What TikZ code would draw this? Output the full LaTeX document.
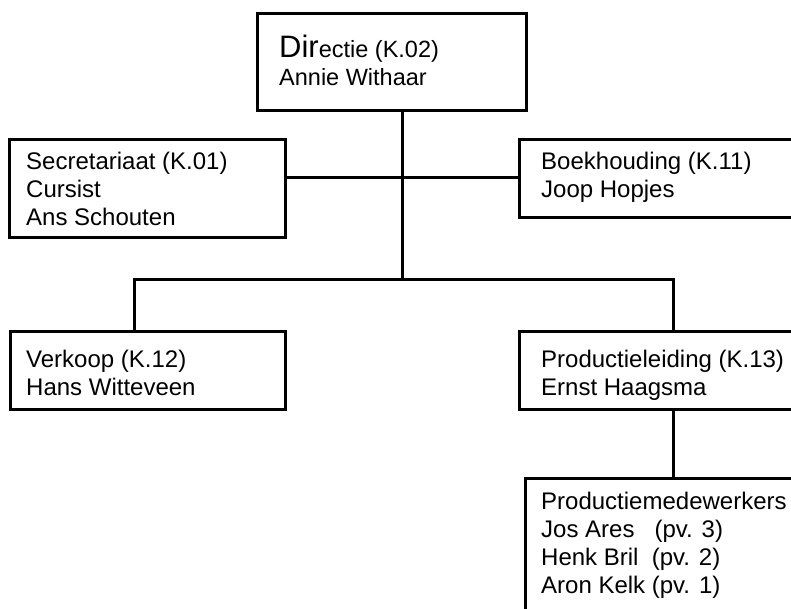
\documentclass[tikz,border=0pt]{standalone}
\usepackage{fontspec}
\setmainfont{Liberation Sans}
\begin{document}
\begin{tikzpicture}[x=1pt,y=-1pt,
  box/.style={draw=black,line width=3pt,rectangle,inner sep=0pt,outer sep=0pt},
  lbl/.style={anchor=base west,align=left,inner sep=0pt,font=\fontsize{24}{27.7}\selectfont},
  conn/.style={draw=black,line width=3pt,line join=miter}]
\clip (0,0) rectangle (791,608);
% boxes
\node[box,minimum width=269pt,minimum height=97pt] (dir) at (391.5,61.5) {};
\node[box,minimum width=276pt,minimum height=98pt] (sec) at (147,188) {};
\node[box,minimum width=330pt,minimum height=78pt] (boek) at (684,178) {};
\node[box,minimum width=275pt,minimum height=78pt] (verk) at (147.5,370) {};
\node[box,minimum width=330pt,minimum height=78pt] (pl) at (684,370) {};
\node[box,minimum width=330pt,minimum height=180pt] (pm) at (690,568) {};
% texts (anchored at the baseline of their last line)
\node[lbl,font=\fontsize{23.5}{27.7}\selectfont] (tdir) at (279,85) {{\fontsize{31}{27.7}\selectfont Dir}ectie (K.02)\\Annie Withaar};
\node[lbl] (tsec) at (26,225) {Secretariaat (K.01)\\Cursist\\Ans Schouten};
\node[lbl] (tboek) at (541,197) {Boekhouding (K.11)\\Joop Hopjes};
\node[lbl] (tverk) at (26,395) {Verkoop (K.12)\\Hans Witteveen};
\node[lbl] (tpl) at (541,395) {Productieleiding (K.13)\\Ernst Haagsma};
\node[lbl] (tpm) at (541,593) {Productiemedewerkers\\Jos Ares\ \ \ (pv. 3)\\Henk Bril\ \ (pv. 2)\\Aron Kelk (pv. 1)};
% junctions
\coordinate (j1) at (402,177);
\coordinate (j2) at (402,279);
\coordinate (b1) at (134,279);
\coordinate (b2) at (673,279);
% connectors
\draw[conn] (dir.south -| j1) -- (j2);
\draw[conn] (sec.east |- j1) -- (boek.west |- j1);
\draw[conn] (verk.north -| b1) -- (b1) -- (b2) -- (pl.north -| b2);
\draw[conn] (pl.south -| b2) -- (pm.north -| b2);
\end{tikzpicture}
\end{document}
